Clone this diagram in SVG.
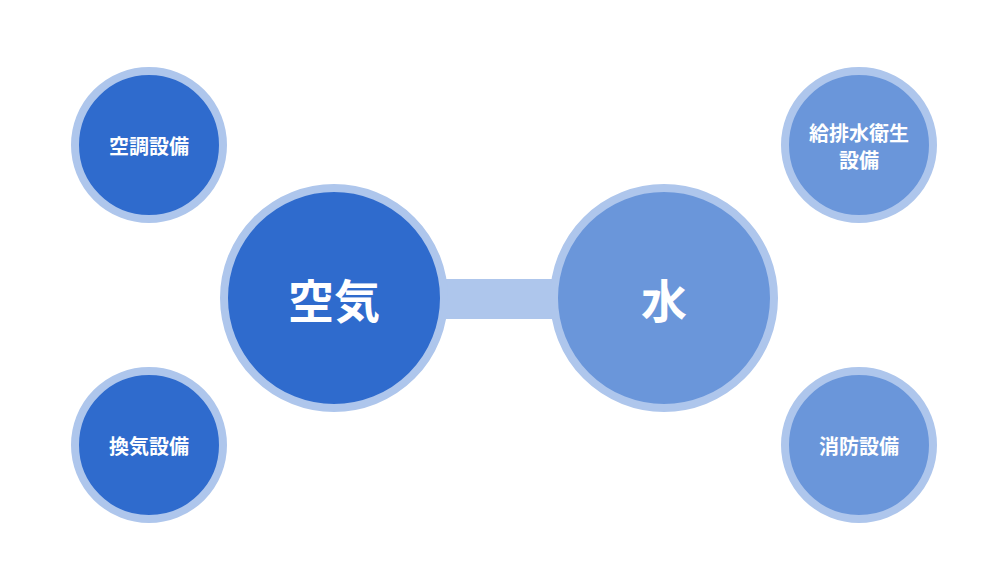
<svg xmlns="http://www.w3.org/2000/svg" width="1000" height="580" viewBox="0 0 1000 580">
<style>
.dark{fill:#2f6bcd;stroke:#aec6ec;stroke-width:8}
.light{fill:#6a96da;stroke:#aec6ec;stroke-width:8}
text{font-family:"Noto Sans CJK JP",sans-serif;font-weight:bold;fill:#fff;text-anchor:middle;dominant-baseline:central}
.s{font-size:20px}
.b{font-size:46px}
</style>
<rect width="1000" height="580" fill="#fff"/>
<g id="connectors"><rect x="430" y="279" width="140" height="40" fill="#aec6ec"/></g>
<g id="n1"><circle class="dark" cx="334" cy="298" r="110"/><text class="b" x="334" y="298">空気</text></g>
<g id="n2"><circle class="light" cx="664" cy="298" r="110"/><text class="b" x="664" y="298">水</text></g>
<g id="n3"><circle class="dark" cx="149" cy="145" r="74"/><text class="s" x="149" y="145">空調設備</text></g>
<g id="n4"><circle class="dark" cx="149" cy="445" r="74"/><text class="s" x="149" y="445">換気設備</text></g>
<g id="n5"><circle class="light" cx="859" cy="145" r="74"/><text class="s" x="859" y="132">給排水衛生</text><text class="s" x="859" y="159">設備</text></g>
<g id="n6"><circle class="light" cx="859" cy="445" r="74"/><text class="s" x="859" y="445">消防設備</text></g>
</svg>
